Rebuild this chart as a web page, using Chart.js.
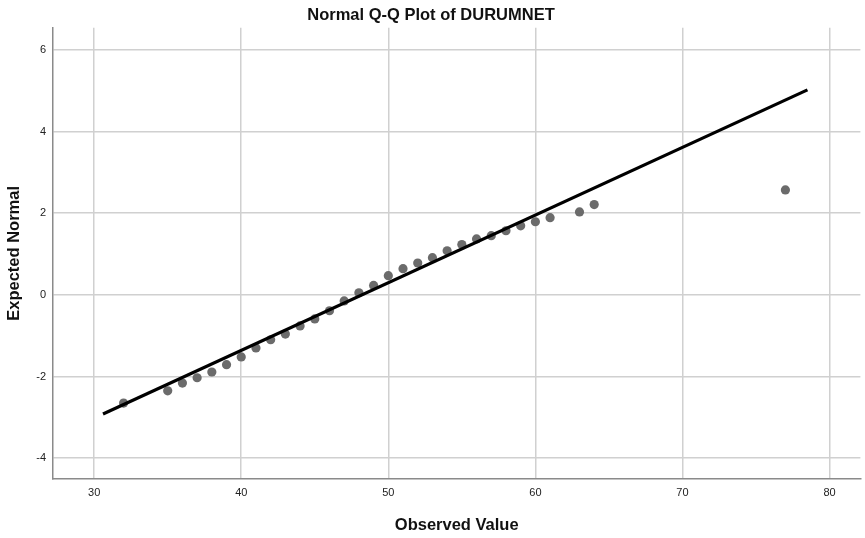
<!DOCTYPE html>
<html>
<head>
<meta charset="utf-8">
<title>Normal Q-Q Plot of DURUMNET</title>
<script src="https://cdn.jsdelivr.net/npm/chart.js@4.4.0/dist/chart.umd.min.js"></script>
<style>
  body { margin: 0; background: #fff; }
  #wrap { width: 865px; height: 538px; }
</style>
</head>
<body>
<div id="wrap"><canvas id="qq" width="865" height="538"></canvas></div>
<script>
// DATA

const observed = [32, 35, 36, 37, 38, 39, 40, 41, 42, 43, 44, 45, 46, 47, 48, 49, 50,
  51, 52, 53, 54, 55, 56, 57, 58, 59, 60, 61, 63, 64, 77];
const expected = [-2.65, -2.35, -2.16, -2.03, -1.89, -1.71, -1.52, -1.30, -1.10, -0.96,
  -0.76, -0.59, -0.39, -0.15, 0.05, 0.23, 0.47, 0.64, 0.78, 0.91, 1.08, 1.23, 1.37,
  1.45, 1.57, 1.69, 1.79, 1.89, 2.03, 2.21, 2.57];

// reference line ends
const lineX = [30.6, 78.5];
const lineY = [-2.92, 5.02];

const xTicks = [30, 40, 50, 60, 70, 80];
const yTicks = [-4, -2, 0, 2, 4, 6];

const fontFamily = "'Liberation Sans', Arial, sans-serif";

function pairs(xs, ys) {
  return xs.map(function (x, i) {
    return { x: x, y: ys[i] };
  });
}

function fixTicks(list) {
  return function (scale) {
    scale.ticks = list.map(function (v) {
      return { value: v };
    });
  };
}

// CHART

const ctx = document.getElementById('qq').getContext('2d');

const chart = new Chart(ctx, {
  type: 'scatter',
  data: {
    datasets: [
      {
        label: 'Reference line',
        data: pairs(lineX, lineY),
        showLine: true,
        borderColor: '#000',
        borderWidth: 3.2,
        pointRadius: 0,
        order: 0,
      },
      {
        label: 'DURUMNET',
        data: pairs(observed, expected),
        backgroundColor: '#6b6b6b',
        borderWidth: 0,
        pointRadius: 4.6,
        order: 1,
      },
    ],
  },
  options: {
    responsive: false,
    animation: false,
    layout: { padding: { left: 0, right: 3, top: 0, bottom: 0 } },
    plugins: {
      legend: { display: false },
      tooltip: { enabled: false },
      title: {
        display: true,
        text: 'Normal Q-Q Plot of DURUMNET',
        color: '#111',
        font: { family: fontFamily, size: 16.5, weight: 'bold' },
        padding: { top: 6, bottom: 2 },
      },
    },
    scales: {
      x: {
        type: 'linear',
        min: 27.2,
        max: 82.1,
        afterBuildTicks: fixTicks(xTicks),
        afterFit: function (scale) {
          scale.height = 59;
        },
        grid: { color: '#d0d0d0', lineWidth: 1.5, drawTicks: false },
        border: { color: '#8a8a8a', width: 1.5 },
        ticks: {
          color: '#222',
          padding: 7,
          maxRotation: 0,
          font: { family: fontFamily, size: 11 },
        },
        title: {
          display: true,
          text: 'Observed Value',
          color: '#111',
          font: { family: fontFamily, size: 16.5, weight: 'bold' },
          padding: { top: 0, bottom: 3 },
        },
      },
      y: {
        type: 'linear',
        min: -4.51,
        max: 6.54,
        afterBuildTicks: fixTicks(yTicks),
        afterFit: function (scale) {
          scale.width = 53;
        },
        grid: { color: '#d0d0d0', lineWidth: 1.5, drawTicks: false },
        border: { color: '#8a8a8a', width: 1.5 },
        ticks: {
          color: '#222',
          padding: 7,
          font: { family: fontFamily, size: 11 },
        },
        title: {
          display: true,
          text: 'Expected Normal',
          color: '#111',
          font: { family: fontFamily, size: 16.5, weight: 'bold' },
          padding: { top: 5, bottom: 0 },
        },
      },
    },
  },
});
</script>
</body>
</html>
